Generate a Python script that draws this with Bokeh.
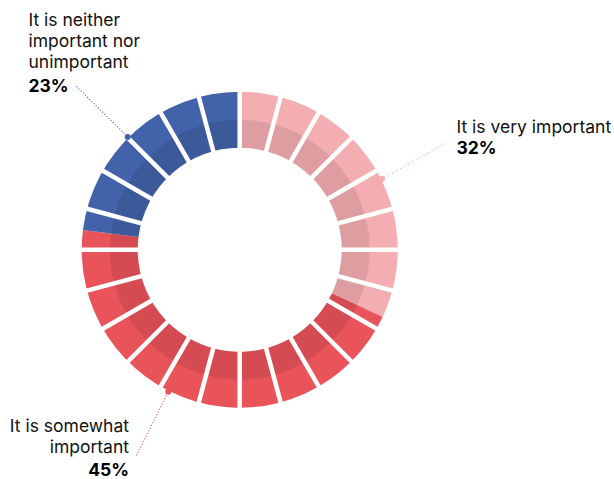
import numpy as np
from bokeh.plotting import figure
from bokeh.models import Range1d, ColumnDataSource
from bokeh.embed import file_html
from bokeh.resources import INLINE
from bokeh.core.properties import value

# ---- data ----
categories = ["It is very important", "It is somewhat important",
              "It is neither important nor unimportant"]
shares = [32, 45, 23]
colors = ["#F4AEB1", "#E9545A", "#4262AA"]
label_lines = [["It is very important"],
               ["It is somewhat", "important"],
               ["It is neither", "important nor", "unimportant"]]
n_segments = 24

# ---- layout (picture pixel coordinates, y measured from top) ----
W, H = 614, 479
CX, CY = 239.2, 249.2
R_IN, R_BAND, R_OUT = 102, 130, 158
anchor_angles = [63.5, 206.7, 315.2]          # clockwise from 12 o'clock
label_ends = [(445, 143), (136, 455), (76, 86)]
label_pos = [(456, [126], 147, "left"),
             (128.5, [425, 446], 469, "right"),
             (28, [19, 40, 61], 85, "left")]
FONT = "Inter"


def fy(wy):
    return H - wy


cy = fy(CY)

p = figure(width=W, height=H, output_backend="svg", toolbar_location=None,
           x_range=Range1d(0, W), y_range=Range1d(0, H),
           min_border=0, background_fill_color="white",
           border_fill_color="white")
p.axis.visible = False
p.grid.visible = False
p.outline_line_color = None

# slices
total = sum(shares)
ends = np.cumsum(shares) / total * 360.0
starts = np.concatenate([[0.0], ends[:-1]])
src = ColumnDataSource(dict(
    start=np.radians(90 - ends), end=np.radians(90 - starts), color=colors))
p.annular_wedge(x=CX, y=cy, inner_radius=R_IN, outer_radius=R_OUT,
                start_angle="start", end_angle="end", direction="anticlock",
                fill_color="color", line_color=None, source=src)

# darker inner band
p.annulus(x=CX, y=cy, inner_radius=R_IN, outer_radius=R_BAND,
          fill_color="black", fill_alpha=0.09, line_color=None)

# white separators
th = np.radians(np.arange(n_segments) * 360.0 / n_segments)
r0, r1 = R_IN - 4, R_OUT + 4
p.segment(x0=CX + r0 * np.sin(th), y0=cy + r0 * np.cos(th),
          x1=CX + r1 * np.sin(th), y1=cy + r1 * np.cos(th),
          line_color="white", line_width=4.5)

# leader lines and dots
for ang, (lx, ly), col in zip(anchor_angles, label_ends, colors):
    a = np.radians(ang)
    dx, dy = CX + (R_OUT + 1) * np.sin(a), cy + (R_OUT + 1) * np.cos(a)
    p.segment(x0=[lx], y0=[fy(ly)], x1=[dx], y1=[dy], line_color=col,
              line_width=1.2, line_dash="1 2")
    p.scatter(x=[dx], y=[dy], size=6, fill_color=col, line_color=None)

# labels
for lines, share, (x, ys, py, align) in zip(label_lines, shares, label_pos):
    p.text(x=[x] * len(lines), y=[fy(v) for v in ys], text=lines,
           text_font=value(FONT), text_font_size="17.5px",
           text_align=align, text_baseline="alphabetic", text_color="#111111")
    p.text(x=[x], y=[fy(py)], text=[f"{share}%"], text_font=value(FONT),
           text_font_size="17.5px", text_font_style="bold",
           text_align=align, text_baseline="alphabetic", text_color="#000000")

open("out.html", "w").write(file_html(p, INLINE))
